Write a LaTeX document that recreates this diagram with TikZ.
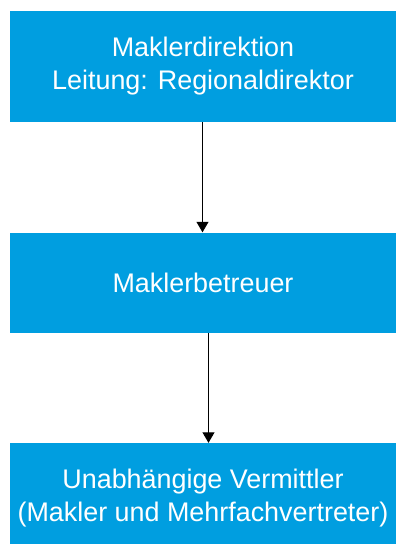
\documentclass[tikz,border=0pt]{standalone}
\usepackage{fontspec}
\setmainfont{Liberation Sans}
\usetikzlibrary{arrows.meta}
\definecolor{boxblue}{RGB}{0,158,224}
\begin{document}
\begin{tikzpicture}[x=1pt,y=-1pt,
  orgbox/.style={fill=boxblue, draw=none, inner sep=0pt, text=white,
    minimum width=386pt, align=center,
    font=\fontsize{26.9}{33}\selectfont},
  conn/.style={draw=black, line width=1pt,
    -{Triangle[length=10.5pt,width=12pt]}}]
\useasboundingbox (0,0) rectangle (396,544);
\begin{scope}
\clip (0,0) rectangle (396,544);
\node[orgbox, minimum height=111pt] (b1) at (203,66.5) {Maklerdirektion\\Leitung: Regionaldirektor};
\node[orgbox, minimum height=100pt] (b2) at (203,282.5) {Maklerbetreuer};
\node[orgbox, minimum height=111pt] (b3) at (203,498.5) {Unabhängige Vermittler\\(Makler und Mehrfachvertreter)};
\end{scope}
\coordinate (x1) at (202.5,0);
\coordinate (x2) at (208.5,0);
\draw[conn] (b1.south -| x1) -- (b2.north -| x1);
\draw[conn] (b2.south -| x2) -- (b3.north -| x2);
\end{tikzpicture}
\end{document}
